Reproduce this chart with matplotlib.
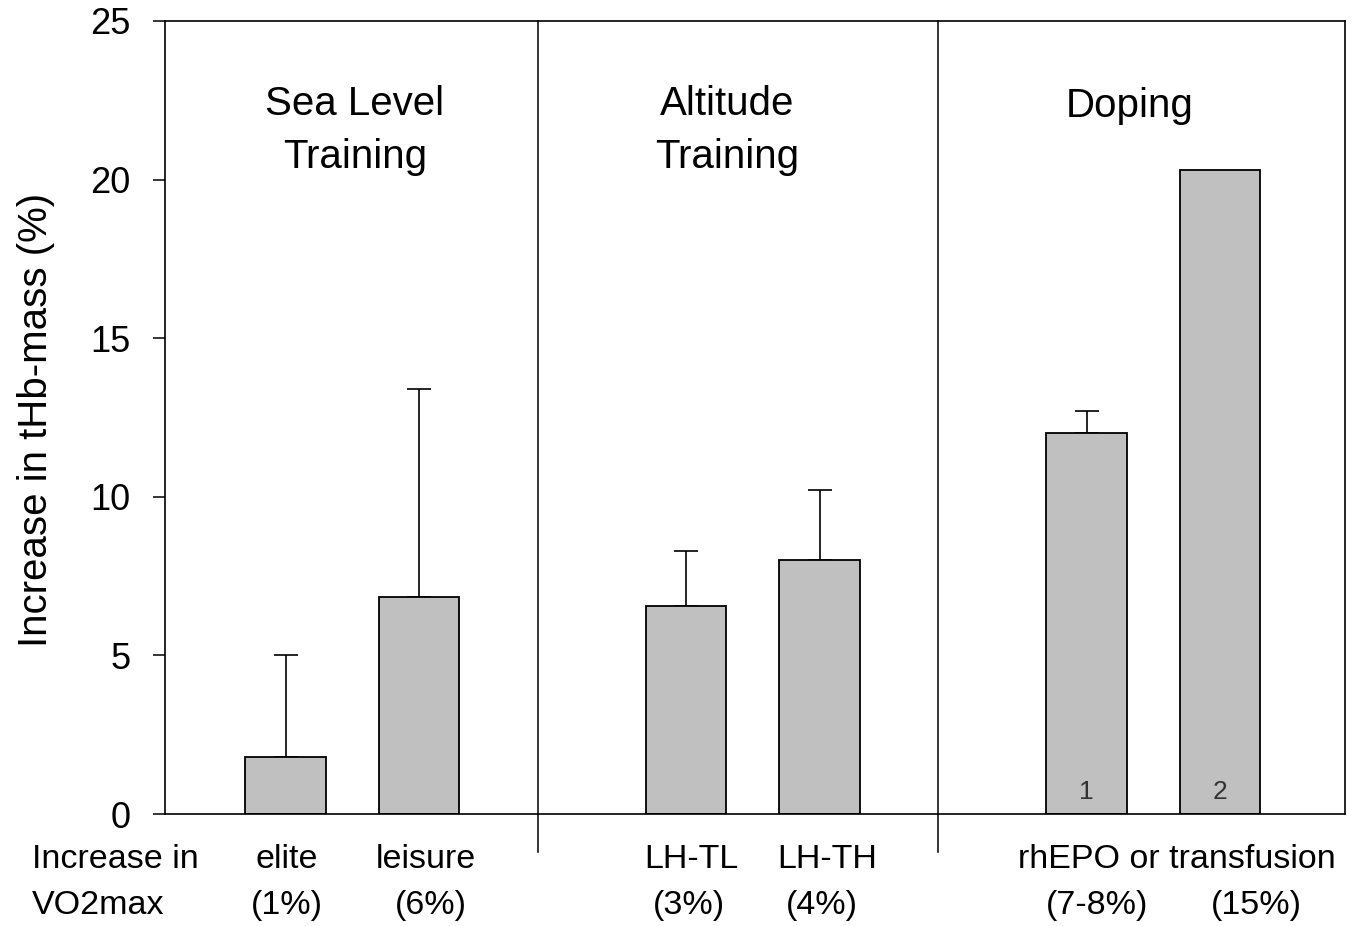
import matplotlib
matplotlib.use("Agg")
import matplotlib.pyplot as plt
import numpy as np

plt.rcParams['font.family'] = ['Liberation Sans', 'DejaVu Sans']

# ---- data ----
categories = ["elite", "leisure", "LH-TL", "LH-TH", "rhEPO", "transfusion"]
values = [1.8, 6.85, 6.55, 8.0, 12.0, 20.3]
err_upper = [3.2, 6.55, 1.75, 2.2, 0.7, 0.0]
vo2_labels = ["(1%)", "(6%)", "(3%)", "(4%)", "(7-8%)", "(15%)"]
group_titles = ["Sea Level\nTraining", "Altitude\nTraining", "Doping"]
bar_numbers = ["", "", "", "", "1", "2"]
yticks = [0, 5, 10, 15, 20, 25]

# ---- layout ----
pos = np.array([0, 1, 3, 4, 6, 7], dtype=float)
fig = plt.figure(figsize=(13.68, 9.26), dpi=100)
ax = fig.add_axes([165/1368, 112/926, 1180/1368, 793/926])

ax.bar(pos, values, width=0.6, color="#c0c0c0", edgecolor="black", linewidth=1.3, zorder=2)
for x, v, e in zip(pos, values, err_upper):
    if e > 0:
        ax.errorbar([x], [v], yerr=[[0], [e]], fmt="none", ecolor="black",
                    elinewidth=1.2, capsize=8.5, capthick=1.2, zorder=1)

ax.set_xlim(-0.9026, 7.936)
ax.set_ylim(0, 25)
ax.set_yticks(yticks)
ax.set_yticklabels([str(t) for t in yticks], fontsize=26)
ax.tick_params(axis="y", direction="out", length=8.6, width=1.1, pad=16)
ax.set_xticks([])
for s in ax.spines.values():
    s.set_linewidth(1.2)

ax.set_ylabel("Increase in tHb-mass (%)", fontsize=29)
ax.yaxis.set_label_coords(-0.0932, 0.497)

# divider lines
for xd in [1.891, 4.888]:
    ax.axvline(xd, ymin=-0.048, ymax=1, color="black", linewidth=1.1, clip_on=False)

xt = ax.get_xaxis_transform()

# group titles
ax.text(0.52, 0.862, group_titles[0], ha="center", va="center", fontsize=29,
        linespacing=1.52, transform=xt)
ax.text(3.31, 0.862, group_titles[1], ha="center", va="center", fontsize=29,
        linespacing=1.52, transform=xt)
ax.text(6.32, 0.893, group_titles[2], ha="center", va="center", fontsize=29, transform=xt)

# numbers inside bars
for x, n in zip(pos, bar_numbers):
    if n:
        ax.text(x, 0.7, n, ha="center", va="center", fontsize=19, color="#333333")

# bottom labels
row1 = -0.058
row2 = -0.115
fs = 24.5
xl = -0.9026 + (32 - 165) / 133.5
ax.text(xl, row1, "Increase in", ha="left", va="center", fontsize=fs, transform=xt)
ax.text(xl, row2, "VO2max", ha="left", va="center", fontsize=fs, transform=xt)
name_offsets = [0.01, 0.05, 0.04, 0.06]
for x, name, off in zip(pos[:4], categories[:4], name_offsets):
    ax.text(x + off, row1, name, ha="center", va="center", fontsize=fs, transform=xt)
ax.text((pos[4] + pos[5]) / 2 + 0.18, row1, f"{categories[4]} or {categories[5]}",
        ha="center", va="center", fontsize=fs, transform=xt)
vo2_offsets = [0.01, 0.09, 0.02, 0.02, 0.08, 0.27]
for x, lab, off in zip(pos, vo2_labels, vo2_offsets):
    ax.text(x + off, row2, lab, ha="center", va="center", fontsize=fs, transform=xt)

fig.savefig("out.png", dpi=100)
